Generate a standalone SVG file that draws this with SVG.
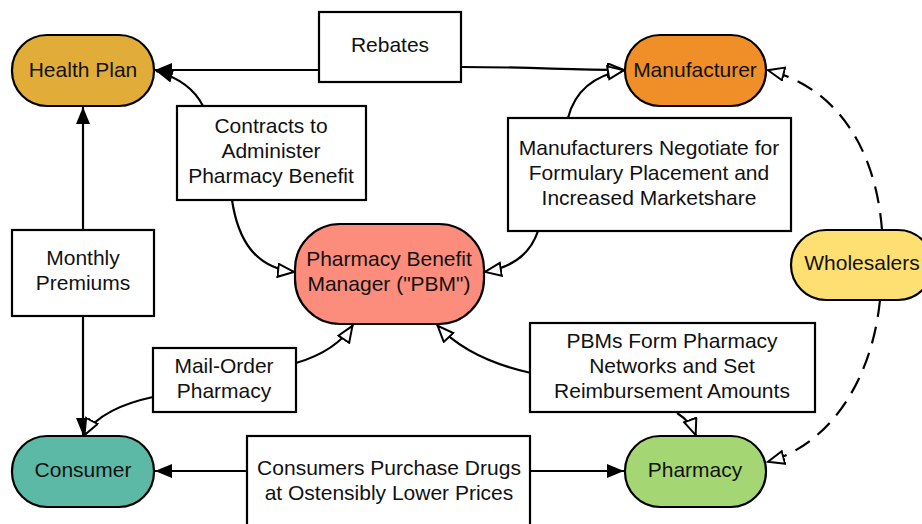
<svg xmlns="http://www.w3.org/2000/svg" width="922" height="524" viewBox="0 0 922 524">
<style>
.node{stroke:#000;stroke-width:2.2}
.box{fill:#fff;stroke:#000;stroke-width:2.2}
text{font-family:"Liberation Sans",Arial,sans-serif;font-size:21px;fill:#111;text-anchor:middle}
.c{fill:none;stroke:#000;stroke-width:2.2}
.d{stroke-dasharray:17,10}
</style>
<defs>
<marker id="fa" markerUnits="userSpaceOnUse" markerWidth="20" markerHeight="16" refX="17" refY="7" orient="auto"><path d="M0,0 L17,7 L0,14 z" fill="#000"/></marker>
<marker id="ha" markerUnits="userSpaceOnUse" markerWidth="22" markerHeight="18" refX="18" refY="7.5" orient="auto"><path d="M1,1 L17,7.5 L1,14 z" fill="#fff" stroke="#000" stroke-width="2"/></marker>
</defs>
<rect width="922" height="524" fill="#fff"/>
<g id="connectors">
<path class="c" d="M319,70 L155,70" marker-end="url(#fa)"/>
<path class="c" d="M461,67 C540,67 560,70 625,70" marker-end="url(#ha)"/>
<path class="c" d="M203,106 C195,90 180,78 156,71" marker-end="url(#fa)"/>
<path class="c" d="M232,200 C238,240 255,268 295,272" marker-end="url(#ha)"/>
<path class="c" d="M568,118 C575,90 595,75 625,70" marker-end="url(#ha)"/>
<path class="c" d="M538,231 C530,255 510,268 484,272" marker-end="url(#ha)"/>
<path class="c d" d="M882,230 C875,140 830,85 767,70" marker-end="url(#ha)"/>
<path class="c d" d="M880,300 C872,380 830,445 767,462" marker-end="url(#ha)"/>
<path class="c" d="M83,230 L83,107" marker-end="url(#fa)"/>
<path class="c" d="M83,316 L83,435" marker-end="url(#fa)"/>
<path class="c" d="M296,363 C320,356 340,345 353,325" marker-end="url(#ha)"/>
<path class="c" d="M153,397 C125,403 95,415 84,436" marker-end="url(#ha)"/>
<path class="c" d="M247,471 L155,471" marker-end="url(#fa)"/>
<path class="c" d="M530,471 L624,471" marker-end="url(#fa)"/>
<path class="c" d="M531,373 C495,365 460,350 437,325" marker-end="url(#ha)"/>
<path class="c" d="M677,413 C685,418 692,425 696,436" marker-end="url(#ha)"/>
</g>
<g id="health-plan"><rect class="node" x="12" y="35" width="142" height="71" rx="35" fill="#e1ad38"/><text x="83" y="77">Health Plan</text></g>
<g id="manufacturer"><rect class="node" x="625" y="35" width="141" height="71" rx="35" fill="#f08e27"/><text x="695" y="77">Manufacturer</text></g>
<g id="pbm"><rect class="node" x="295" y="224" width="189" height="100" rx="45" fill="#fc8c7c"/><text x="389" y="266">Pharmacy Benefit</text><text x="389" y="291">Manager ("PBM")</text></g>
<g id="wholesalers"><rect class="node" x="791" y="230" width="142" height="70" rx="35" fill="#fedf72"/><text x="862" y="270">Wholesalers</text></g>
<g id="consumer"><rect class="node" x="12" y="436" width="142" height="71" rx="35" fill="#5bb9a5"/><text x="83" y="477">Consumer</text></g>
<g id="pharmacy"><rect class="node" x="625" y="436" width="141" height="71" rx="35" fill="#a4d674"/><text x="695" y="477">Pharmacy</text></g>
<g id="rebates"><rect class="box" x="319" y="12" width="142" height="70"/><text x="390" y="52">Rebates</text></g>
<g id="contracts"><rect class="box" x="177" y="106" width="189" height="94"/><text x="271" y="133">Contracts to</text><text x="271" y="158">Administer</text><text x="271" y="183">Pharmacy Benefit</text></g>
<g id="negotiate"><rect class="box" x="508" y="118" width="283" height="113"/><text x="649" y="155">Manufacturers Negotiate for</text><text x="649" y="180">Formulary Placement and</text><text x="649" y="205">Increased Marketshare</text></g>
<g id="premiums"><rect class="box" x="12" y="230" width="142" height="86"/><text x="83" y="265">Monthly</text><text x="83" y="290">Premiums</text></g>
<g id="mail-order"><rect class="box" x="153" y="348" width="143" height="64"/><text x="224" y="373">Mail-Order</text><text x="224" y="398">Pharmacy</text></g>
<g id="networks"><rect class="box" x="530" y="323" width="285" height="89"/><text x="672" y="348">PBMs Form Pharmacy</text><text x="672" y="373">Networks and Set</text><text x="672" y="398">Reimbursement Amounts</text></g>
<g id="purchase"><rect class="box" x="247" y="436" width="283" height="100"/><text x="389" y="475">Consumers Purchase Drugs</text><text x="389" y="500">at Ostensibly Lower Prices</text></g>
</svg>
